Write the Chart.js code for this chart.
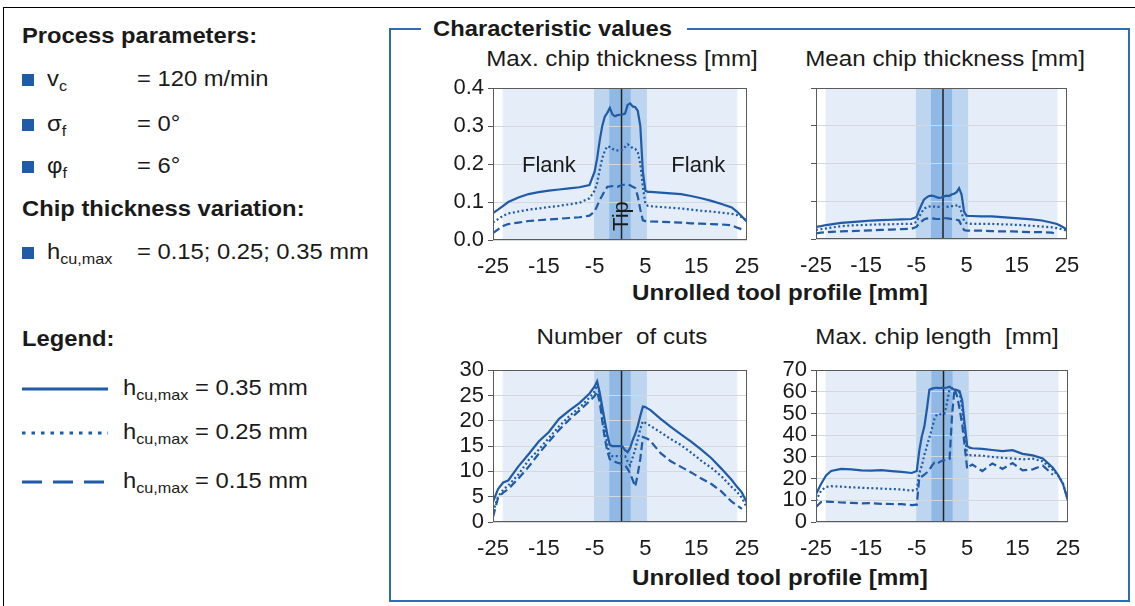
<!DOCTYPE html>
<html>
<head>
<meta charset="utf-8">
<script src="https://cdn.jsdelivr.net/npm/chart.js@4.4.1/dist/chart.umd.min.js"></script>
<style>
body { margin: 0; width: 1135px; height: 606px; position: relative; background: #fff; overflow: hidden;
       font-family: 'Liberation Sans', Arial, sans-serif; color: #1a1a1a; }
.a { position: absolute; white-space: pre; font-size: 22px; line-height: 26px; transform: scaleX(1.08); transform-origin: 0 50%; }
.b { font-weight: bold; }
.c { text-align: center; width: 400px; transform-origin: 50% 50%; transform: scaleX(1.1); }
.sq { position: absolute; width: 12px; height: 12px; background: #1f5ba6; }
sub { font-size: 15px; vertical-align: -5px; line-height: 0; }
.box { position: absolute; }
</style>
</head>
<body>
<div style="position:absolute;left:3px;top:7px;right:0;bottom:0;border-left:1px solid #000;border-top:1px solid #000"></div>

<!-- panneau gauche -->
<div class="a b" style="left:22px;top:23px">Process parameters:</div>
<div class="sq" style="left:22px;top:74px"></div>
<div class="a" style="left:47px;top:66px">v<sub>c</sub></div>
<div class="a" style="left:137px;top:66px">= 120 m/min</div>
<div class="sq" style="left:22px;top:119px"></div>
<div class="a" style="left:47px;top:111px">σ<sub>f</sub></div>
<div class="a" style="left:137px;top:111px">= 0°</div>
<div class="sq" style="left:22px;top:161px"></div>
<div class="a" style="left:47px;top:153px">φ<sub>f</sub></div>
<div class="a" style="left:137px;top:153px">= 6°</div>
<div class="a b" style="left:22px;top:196px">Chip thickness variation:</div>
<div class="sq" style="left:22px;top:247px"></div>
<div class="a" style="left:47px;top:239px">h<sub>cu,max</sub></div>
<div class="a" style="left:137px;top:239px">= 0.15; 0.25; 0.35 mm</div>
<div class="a b" style="left:22px;top:326px">Legend:</div>

<svg style="position:absolute;left:22px;top:383px" width="88" height="12"><line x1="0" y1="6" x2="86" y2="6" stroke="#1f5ba6" stroke-width="3"/></svg>
<svg style="position:absolute;left:22px;top:427px" width="88" height="12"><line x1="0" y1="6" x2="86" y2="6" stroke="#1f5ba6" stroke-width="3" stroke-dasharray="3.5 6"/></svg>
<svg style="position:absolute;left:22px;top:476px" width="88" height="12"><line x1="0" y1="6" x2="86" y2="6" stroke="#1f5ba6" stroke-width="3" stroke-dasharray="20 11"/></svg>
<div class="a" style="left:123px;top:375px">h<sub>cu,max</sub></div>
<div class="a" style="left:195px;top:375px">= 0.35 mm</div>
<div class="a" style="left:123px;top:419px">h<sub>cu,max</sub></div>
<div class="a" style="left:195px;top:419px">= 0.25 mm</div>
<div class="a" style="left:123px;top:468px">h<sub>cu,max</sub></div>
<div class="a" style="left:195px;top:468px">= 0.15 mm</div>

<!-- cadre valeurs caractéristiques -->
<div style="position:absolute;left:389px;top:28px;width:741px;height:574px;box-sizing:border-box;border:2px solid #2e6cb5"></div>
<div style="position:absolute;left:421px;top:17px;width:266px;height:26px;background:#fff"></div>
<div class="a b" style="left:433px;top:16px">Characteristic values</div>

<div class="a c" style="left:422px;top:46px">Max. chip thickness [mm]</div>
<div class="a c" style="left:745px;top:46px">Mean chip thickness [mm]</div>
<div class="a c" style="left:422px;top:324px">Number  of cuts</div>
<div class="a c" style="left:737px;top:324px">Max. chip length  [mm]</div>
<div class="a b c" style="left:580px;top:280px">Unrolled tool profile [mm]</div>
<div class="a b c" style="left:580px;top:565px">Unrolled tool profile [mm]</div>

<div class="box" style="left:420px;top:71px"><canvas id="maxThickChart" width="360" height="215"></canvas></div>
<div class="box" style="left:760px;top:71px"><canvas id="meanThickChart" width="370" height="215"></canvas></div>
<div class="box" style="left:420px;top:353px"><canvas id="cutsChart" width="360" height="215"></canvas></div>
<div class="box" style="left:760px;top:353px"><canvas id="chipLenChart" width="370" height="215"></canvas></div>

<script>
// Profil déroulé [mm] (grille commune)
const profileX = [
    -25, -24, -23, -22, -20, -18, -16, -14, -12, -10, -8, -6,
    -5, -4.5, -4, -3.5, -3, -2.5, -2, -1.5, -1, -0.5, 0, 0.5, 1, 1.5, 2, 2.5, 3, 3.5, 4, 4.5, 5, 5.5,
    6, 8, 10, 12, 14, 16, 18, 20, 22, 23, 24, 25
];
const xTicks = [-25, -15, -5, 5, 15, 25];
const thickTicks = [0, 0.1, 0.2, 0.3, 0.4];
const cutsTicks = [0, 5, 10, 15, 20, 25, 30];
const lenTicks = [0, 10, 20, 30, 40, 50, 60, 70];

// Zones flanc / transition / pointe + axe de la pointe
const zoneLimits = [[-23.1, 23.1], [-5.1, 5.3], [-2.1, 2.1]];
const tipAxis = 0.3;

// Max. chip thickness [mm]
const maxThick35 = [
    0.071, 0.080, 0.090, 0.100, 0.112, 0.121, 0.126, 0.130, 0.133, 0.136, 0.139, 0.145,
    0.180, 0.215, 0.262, 0.300, 0.325, 0.335, 0.348, 0.331, 0.326, 0.329, 0.330, 0.331, 0.333, 0.356, 0.360, 0.352, 0.350, 0.340, 0.300, 0.180, 0.130, 0.127,
    0.127, 0.125, 0.123, 0.121, 0.116, 0.110, 0.103, 0.095, 0.086, 0.075, 0.062, 0.048
];
const maxThick25 = [
    0.046, 0.055, 0.064, 0.070, 0.075, 0.080, 0.083, 0.087, 0.090, 0.094, 0.098, 0.110,
    0.130, 0.150, 0.185, 0.215, 0.235, 0.247, 0.245, 0.240, 0.238, 0.236, 0.235, 0.238, 0.245, 0.252, 0.248, 0.242, 0.240, 0.232, 0.200, 0.140, 0.095, 0.090,
    0.089, 0.087, 0.085, 0.083, 0.080, 0.077, 0.075, 0.072, 0.069, 0.066, 0.060, 0.050
];
const maxThick15 = [
    0.018, 0.028, 0.037, 0.042, 0.046, 0.050, 0.052, 0.054, 0.056, 0.058, 0.060, 0.064,
    0.075, 0.090, 0.105, 0.117, 0.130, 0.140, 0.141, 0.142, 0.141, 0.140, 0.143, 0.145, 0.146, 0.147, 0.144, 0.140, 0.137, 0.115, 0.080, 0.052, 0.050, 0.050,
    0.049, 0.048, 0.047, 0.046, 0.044, 0.043, 0.042, 0.041, 0.039, 0.033, 0.028, null
];

// Mean chip thickness [mm]
const meanThick35 = [
    0.032, 0.034, 0.037, 0.039, 0.043, 0.045, 0.047, 0.049, 0.050, 0.051, 0.052, 0.053,
    0.058, 0.075, 0.090, 0.104, 0.110, 0.114, 0.115, 0.114, 0.111, 0.109, 0.110, 0.113, 0.115, 0.114, 0.118, 0.120, 0.124, 0.135, 0.118, 0.072, 0.062, 0.061,
    0.061, 0.060, 0.060, 0.058, 0.056, 0.054, 0.052, 0.049, 0.043, 0.040, 0.033, 0.025
];
const meanThick25 = [
    0.024, 0.026, 0.028, 0.030, 0.034, 0.036, 0.037, 0.038, 0.039, 0.039, 0.040, 0.040,
    0.045, 0.058, 0.070, 0.080, 0.084, 0.086, 0.087, 0.086, 0.085, 0.085, 0.085, 0.085, 0.085, 0.086, 0.087, 0.087, 0.089, 0.090, 0.070, 0.048, 0.042, 0.041,
    0.040, 0.040, 0.040, 0.039, 0.038, 0.037, 0.035, 0.033, 0.031, 0.029, 0.026, 0.022
];
const meanThick15 = [
    0.015, 0.017, 0.018, 0.019, 0.020, 0.021, 0.022, 0.023, 0.024, 0.025, 0.026, 0.027,
    0.032, 0.040, 0.046, 0.052, 0.054, 0.055, 0.055, 0.054, 0.053, 0.053, 0.054, 0.055, 0.055, 0.054, 0.053, 0.053, 0.051, 0.049, 0.035, 0.024, 0.022, 0.022,
    0.022, 0.022, 0.021, 0.020, 0.020, 0.019, 0.018, 0.018, 0.017, 0.013, null, null
];

// Number of cuts
const cuts35 = [
    4.0, 6.5, 7.8, 8.2, 11.0, 13.4, 15.9, 17.8, 20.4, 22.0, 23.5, 25.4,
    26.8, 27.8, 25.6, 22.8, 20.0, 17.3, 15.2, 15.0, 15.0, 15.0, 15.0, 14.9, 14.2, 13.8, 14.6, 16.2, 17.4, 19.0, 21.0, 22.8, 22.7, 22.4,
    22.1, 20.4, 18.8, 17.3, 15.9, 14.3, 12.6, 10.5, 8.3, 7.0, 5.8, 3.8
];
const cuts25 = [
    2.0, 5.0, 6.4, 7.2, 9.4, 12.2, 14.3, 16.6, 18.9, 20.9, 22.6, 24.6,
    25.8, 27.0, 25.4, 21.8, 18.4, 15.2, 13.2, 13.0, 13.0, 13.0, 13.0, 13.0, 13.0, 12.0, 11.2, 12.8, 14.4, 16.4, 18.4, 19.9, 19.6, 19.3,
    19.0, 17.7, 16.4, 15.2, 13.7, 12.1, 10.7, 9.0, 6.9, 6.0, 4.8, 2.8
];
const cuts15 = [
    1.0, 4.8, 5.8, 6.5, 8.6, 10.9, 13.5, 15.9, 18.2, 20.2, 22.0, 23.9,
    24.9, 25.8, 23.7, 20.0, 16.6, 14.0, 12.4, 12.1, 11.9, 11.7, 11.6, 11.4, 11.2, 10.5, 9.6, 8.3, 7.0, 9.5, 12.5, 16.8, 16.6, 16.4,
    16.0, 13.6, 12.0, 10.9, 9.8, 8.6, 7.5, 6.0, 4.0, 3.3, 2.6, null
];

// Max. chip length [mm]
const chipLen35 = [
    12.8, 17.5, 21.5, 23.5, 24.5, 24.3, 23.8, 23.7, 23.9, 23.5, 23.1, 22.6,
    23.5, 33.0, 39.5, 44.0, 52.0, 61.0, 61.5, 61.8, 61.9, 61.7, 61.9, 61.8, 62.0, 62.4, 61.5, 61.0, 60.8, 60.3, 56.0, 45.0, 35.0, 34.3,
    34.0, 33.7, 33.2, 32.7, 33.1, 31.4, 30.7, 29.3, 25.0, 21.8, 17.5, 9.8
];
const chipLen25 = [
    9.8, 14.5, 16.2, 16.5, 16.3, 16.0, 15.8, 15.6, 15.4, 15.2, 15.0, 14.5,
    15.0, 22.5, 26.0, 31.0, 35.0, 39.0, 43.0, 47.5, 49.6, 49.7, 49.8, 50.0, 55.0, 61.2, 61.8, 61.5, 60.5, 59.7, 52.0, 42.0, 30.5, 30.8,
    30.7, 30.6, 30.0, 29.6, 29.3, 28.9, 29.2, 28.0, 24.0, 21.5, 18.0, 9.8
];
const chipLen15 = [
    6.9, 9.2, 9.4, 9.3, 9.0, 8.8, 8.6, 8.7, 8.4, 8.3, 8.2, 7.8,
    8.0, 20.5, 21.0, 21.8, 22.8, 24.0, 26.0, 27.4, 26.8, 27.6, 28.2, 28.5, 28.8, 29.0, 49.5, 61.5, 58.0, 52.0, 45.0, 35.0, 24.5, 25.8,
    26.5, 23.5, 27.0, 24.5, 27.2, 23.8, 24.3, 26.0, 21.8, null, null, null
];

// Annotations graphique 1
const flankNotes = [{ text: 'Flank', x: -14, y: 0.194 }, { text: 'Flank', x: 15.4, y: 0.194 }];
const tipNote = { text: 'Tip', x: 0.4, y: 0.063 };

// --------------------------------------------------------------------------

const LINE = '#1f5ba6';
const zoneColors = ['#e5edf8', '#bdd5ef', '#8fb8e4'];
const FONT = "'Liberation Sans', Arial, sans-serif";

Chart.defaults.font.family = FONT;
Chart.defaults.font.size = 22;
Chart.defaults.color = '#1a1a1a';

const toPoints = ys => profileX.map((x, i) => ({ x, y: ys[i] }));

// Zones, axe de la pointe, cadre, textes
const zonesPlugin = withNotes => ({
    id: 'zones',
    beforeDraw(chart) {
        const { ctx, chartArea: a, scales: { x } } = chart;
        ctx.save();
        zoneLimits.forEach(([from, to], i) => {
            const x0 = x.getPixelForValue(from);
            const x1 = x.getPixelForValue(to);
            ctx.fillStyle = zoneColors[i];
            ctx.fillRect(x0, a.top, x1 - x0, a.bottom - a.top);
        });
        ctx.restore();
    },
    beforeDatasetsDraw(chart) {
        const { ctx, chartArea: a, scales: { x } } = chart;
        const px = x.getPixelForValue(tipAxis);
        ctx.save();
        ctx.strokeStyle = '#222';
        ctx.lineWidth = 1.5;
        ctx.beginPath();
        ctx.moveTo(px, a.top);
        ctx.lineTo(px, a.bottom);
        ctx.stroke();
        ctx.restore();
    },
    afterDatasetsDraw(chart) {
        const { ctx, chartArea: a, scales: { x, y } } = chart;
        ctx.save();
        ctx.strokeStyle = '#5a5a5a';
        ctx.lineWidth = 1;
        ctx.strokeRect(Math.round(a.left) + 0.5, Math.round(a.top) + 0.5,
            Math.round(a.right - a.left) - 1, Math.round(a.bottom - a.top) - 1);
        if (withNotes) {
            ctx.fillStyle = '#1a1a1a';
            ctx.font = `22px ${FONT}`;
            ctx.textAlign = 'center';
            ctx.textBaseline = 'middle';
            flankNotes.forEach(n => ctx.fillText(n.text, x.getPixelForValue(n.x), y.getPixelForValue(n.y)));
            ctx.translate(x.getPixelForValue(tipNote.x), y.getPixelForValue(tipNote.y));
            ctx.rotate(-Math.PI / 2);
            ctx.fillText(tipNote.text, 0, 0);
        }
        ctx.restore();
    }
});

const makeChart = (id, opts) => {
    const ctx = document.getElementById(id).getContext('2d');
    const dash = [[], [2, 2.5], [8, 4]];
    new Chart(ctx, {
        type: 'line',
        data: {
            datasets: opts.series.map((s, i) => ({
                data: toPoints(s),
                borderColor: LINE,
                borderWidth: 2.2,
                borderDash: dash[i],
                pointRadius: 0,
                tension: 0
            }))
        },
        options: {
            responsive: false,
            animation: false,
            devicePixelRatio: 1,
            layout: { autoPadding: false, padding: { left: 0, right: opts.right, top: 10, bottom: 0 } },
            plugins: { legend: { display: false }, tooltip: { enabled: false } },
            scales: {
                x: {
                    type: 'linear', min: -25, max: 25,
                    afterBuildTicks: s => { s.ticks = xTicks.map(v => ({ value: v })); },
                    afterFit: s => { s.height = opts.xH; },
                    ticks: { padding: 14, maxRotation: 0, autoSkip: false },
                    grid: { display: false, drawTicks: false },
                    border: { display: false }
                },
                y: {
                    min: 0, max: opts.yTicks[opts.yTicks.length - 1],
                    afterBuildTicks: s => { s.ticks = opts.yTicks.map(v => ({ value: v })); },
                    afterFit: s => { s.width = opts.yW; },
                    ticks: { padding: 4, autoSkip: false, callback: opts.yLabel },
                    grid: { color: '#d3d8de', tickColor: '#555', tickLength: 5 },
                    border: { display: false }
                }
            }
        },
        plugins: [zonesPlugin(opts.notes)]
    });
};

makeChart('maxThickChart', {
    series: [maxThick35, maxThick25, maxThick15], yTicks: thickTicks,
    yLabel: v => v.toFixed(1), yW: 73, xH: 46, right: 33, notes: true
});
makeChart('meanThickChart', {
    series: [meanThick35, meanThick25, meanThick15], yTicks: thickTicks,
    yLabel: () => '', yW: 56, xH: 47, right: 63, notes: false
});
makeChart('cutsChart', {
    series: [cuts35, cuts25, cuts15], yTicks: cutsTicks,
    yLabel: v => String(v), yW: 73, xH: 46, right: 33, notes: false
});
makeChart('chipLenChart', {
    series: [chipLen35, chipLen25, chipLen15], yTicks: lenTicks,
    yLabel: v => String(v), yW: 56, xH: 46, right: 62, notes: false
});
</script>
</body>
</html>
